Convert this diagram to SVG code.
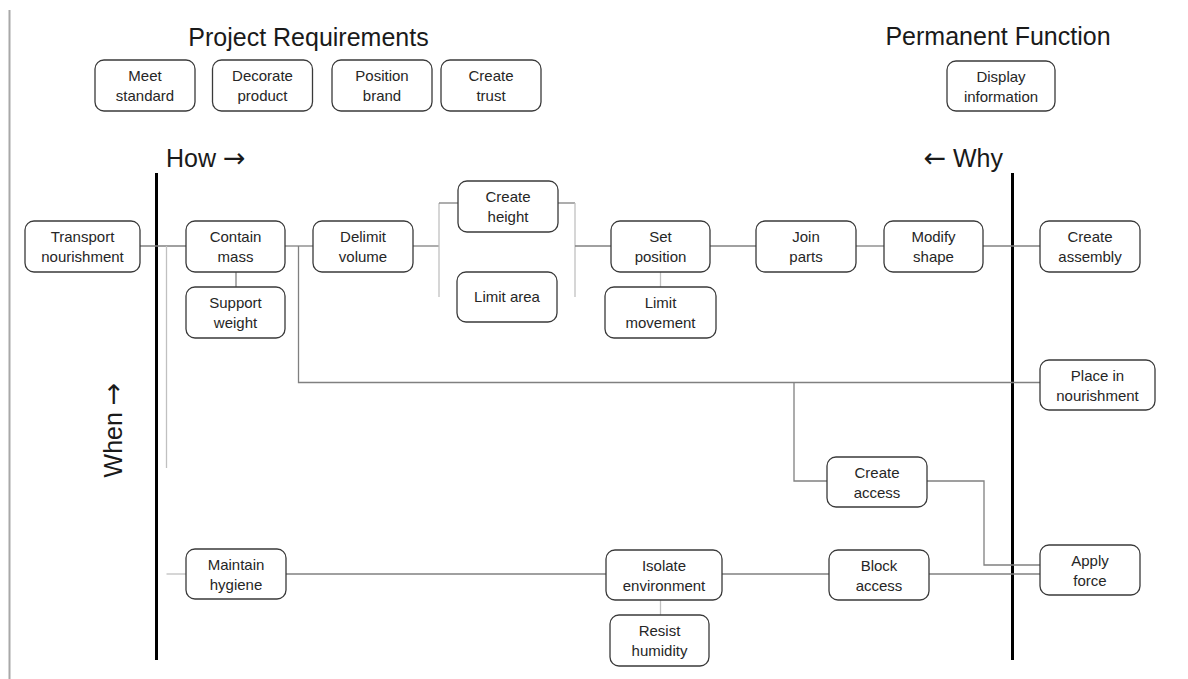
<svg xmlns="http://www.w3.org/2000/svg" width="1188" height="679" viewBox="0 0 1188 679">
<style>
.bx{fill:#fff;stroke:#3a3a3a;stroke-width:1.3}
.t{font-family:"Liberation Sans",Arial,sans-serif;font-size:15px;fill:#262626;text-anchor:middle}
.h{font-family:"Liberation Sans",Arial,sans-serif;font-size:25px;fill:#1a1a1a}
.ar{font-family:"DejaVu Sans",sans-serif;font-size:27px}
.c{fill:none;stroke:#808080;stroke-width:1.3}
.l{fill:none;stroke:#c0c0c0;stroke-width:1.3}
.ax{stroke:#000;stroke-width:3}
</style>
<rect width="1188" height="679" fill="#fff"/>
<line x1="9.5" y1="10" x2="9.5" y2="679" stroke="#a8a8a8" stroke-width="2"/>
<text class="h" x="308.5" y="46" text-anchor="middle">Project Requirements</text>
<text class="h" x="998" y="45" text-anchor="middle">Permanent Function</text>
<text class="h" x="166" y="167" font-size="24">How <tspan class="ar">→</tspan></text>
<text class="h" x="1003" y="167" font-size="24" text-anchor="end"><tspan class="ar">←</tspan> Why</text>
<text class="h" font-size="24" text-anchor="middle" transform="translate(121.5,430) rotate(-90)">When <tspan class="ar">→</tspan></text>
<line class="ax" x1="156.5" y1="173" x2="156.5" y2="660"/>
<line class="ax" x1="1012.5" y1="173" x2="1012.5" y2="660"/>
<g id="connectors">
<path class="c" d="M140 246H186"/>
<path class="l" d="M166.5 246V468"/>
<path class="c" d="M236 272V287"/>
<path class="c" d="M285 246H313"/>
<path class="c" d="M298.5 246V382.5H1040"/>
<path class="c" d="M413 246H439"/>
<path class="l" d="M439 203V297"/>
<path class="c" d="M439 203H458"/>
<path class="c" d="M558 203H575"/>
<path class="l" d="M575 203V297"/>
<path class="c" d="M575 246H611"/>
<path class="l" d="M660.5 272V287"/>
<path class="c" d="M710 246H756"/>
<path class="c" d="M856 246H884"/>
<path class="c" d="M983 246H1040"/>
<path class="c" d="M794 382.5V481H827"/>
<path class="c" d="M927 481H984V565H1040"/>
<path class="l" d="M166.5 574H186"/>
<path class="c" d="M286 574H606"/>
<path class="c" d="M722 574H829"/>
<path class="c" d="M929 574H1040"/>
<path class="l" d="M660.5 600V615"/>
</g>
<g id="meet"><rect class="bx" x="95" y="60" width="100" height="51" rx="9"/><text class="t" x="145" y="81">Meet</text><text class="t" x="145" y="101">standard</text></g>
<g id="decorate"><rect class="bx" x="212.5" y="60" width="100" height="51" rx="9"/><text class="t" x="262.5" y="81">Decorate</text><text class="t" x="262.5" y="101">product</text></g>
<g id="position"><rect class="bx" x="332" y="60" width="100" height="51" rx="9"/><text class="t" x="382" y="81">Position</text><text class="t" x="382" y="101">brand</text></g>
<g id="trust"><rect class="bx" x="441" y="60" width="100" height="51" rx="9"/><text class="t" x="491" y="81">Create</text><text class="t" x="491" y="101">trust</text></g>
<g id="display"><rect class="bx" x="947" y="61" width="108" height="50" rx="9"/><text class="t" x="1001" y="81.5">Display</text><text class="t" x="1001" y="101.5">information</text></g>
<g id="transport"><rect class="bx" x="25" y="221" width="115" height="51" rx="9"/><text class="t" x="82.5" y="242">Transport</text><text class="t" x="82.5" y="262">nourishment</text></g>
<g id="contain"><rect class="bx" x="186" y="221" width="99" height="51" rx="9"/><text class="t" x="235.5" y="242">Contain</text><text class="t" x="235.5" y="262">mass</text></g>
<g id="support"><rect class="bx" x="186" y="287" width="99" height="51" rx="9"/><text class="t" x="235.5" y="308">Support</text><text class="t" x="235.5" y="328">weight</text></g>
<g id="delimit"><rect class="bx" x="313" y="221" width="100" height="51" rx="9"/><text class="t" x="363" y="242">Delimit</text><text class="t" x="363" y="262">volume</text></g>
<g id="height"><rect class="bx" x="458" y="181" width="100" height="51" rx="9"/><text class="t" x="508" y="202">Create</text><text class="t" x="508" y="222">height</text></g>
<g id="area"><rect class="bx" x="457" y="272" width="100" height="50" rx="9"/><text class="t" x="507" y="302">Limit area</text></g>
<g id="setpos"><rect class="bx" x="611" y="221" width="99" height="51" rx="9"/><text class="t" x="660.5" y="242">Set</text><text class="t" x="660.5" y="262">position</text></g>
<g id="movement"><rect class="bx" x="605" y="287" width="111" height="51" rx="9"/><text class="t" x="660.5" y="308">Limit</text><text class="t" x="660.5" y="328">movement</text></g>
<g id="join"><rect class="bx" x="756" y="221" width="100" height="51" rx="9"/><text class="t" x="806" y="242">Join</text><text class="t" x="806" y="262">parts</text></g>
<g id="modify"><rect class="bx" x="884" y="221" width="99" height="51" rx="9"/><text class="t" x="933.5" y="242">Modify</text><text class="t" x="933.5" y="262">shape</text></g>
<g id="assembly"><rect class="bx" x="1040" y="221" width="100" height="51" rx="9"/><text class="t" x="1090" y="242">Create</text><text class="t" x="1090" y="262">assembly</text></g>
<g id="place"><rect class="bx" x="1040" y="360" width="115" height="50" rx="9"/><text class="t" x="1097.5" y="380.5">Place in</text><text class="t" x="1097.5" y="400.5">nourishment</text></g>
<g id="access"><rect class="bx" x="827" y="457" width="100" height="50" rx="9"/><text class="t" x="877" y="477.5">Create</text><text class="t" x="877" y="497.5">access</text></g>
<g id="hygiene"><rect class="bx" x="186" y="549" width="100" height="50" rx="9"/><text class="t" x="236" y="569.5">Maintain</text><text class="t" x="236" y="589.5">hygiene</text></g>
<g id="isolate"><rect class="bx" x="606" y="550" width="116" height="50" rx="9"/><text class="t" x="664" y="570.5">Isolate</text><text class="t" x="664" y="590.5">environment</text></g>
<g id="humidity"><rect class="bx" x="610" y="615" width="99" height="51" rx="9"/><text class="t" x="659.5" y="636">Resist</text><text class="t" x="659.5" y="656">humidity</text></g>
<g id="block"><rect class="bx" x="829" y="550" width="100" height="50" rx="9"/><text class="t" x="879" y="570.5">Block</text><text class="t" x="879" y="590.5">access</text></g>
<g id="force"><rect class="bx" x="1040" y="545" width="100" height="50" rx="9"/><text class="t" x="1090" y="565.5">Apply</text><text class="t" x="1090" y="585.5">force</text></g>
</svg>
